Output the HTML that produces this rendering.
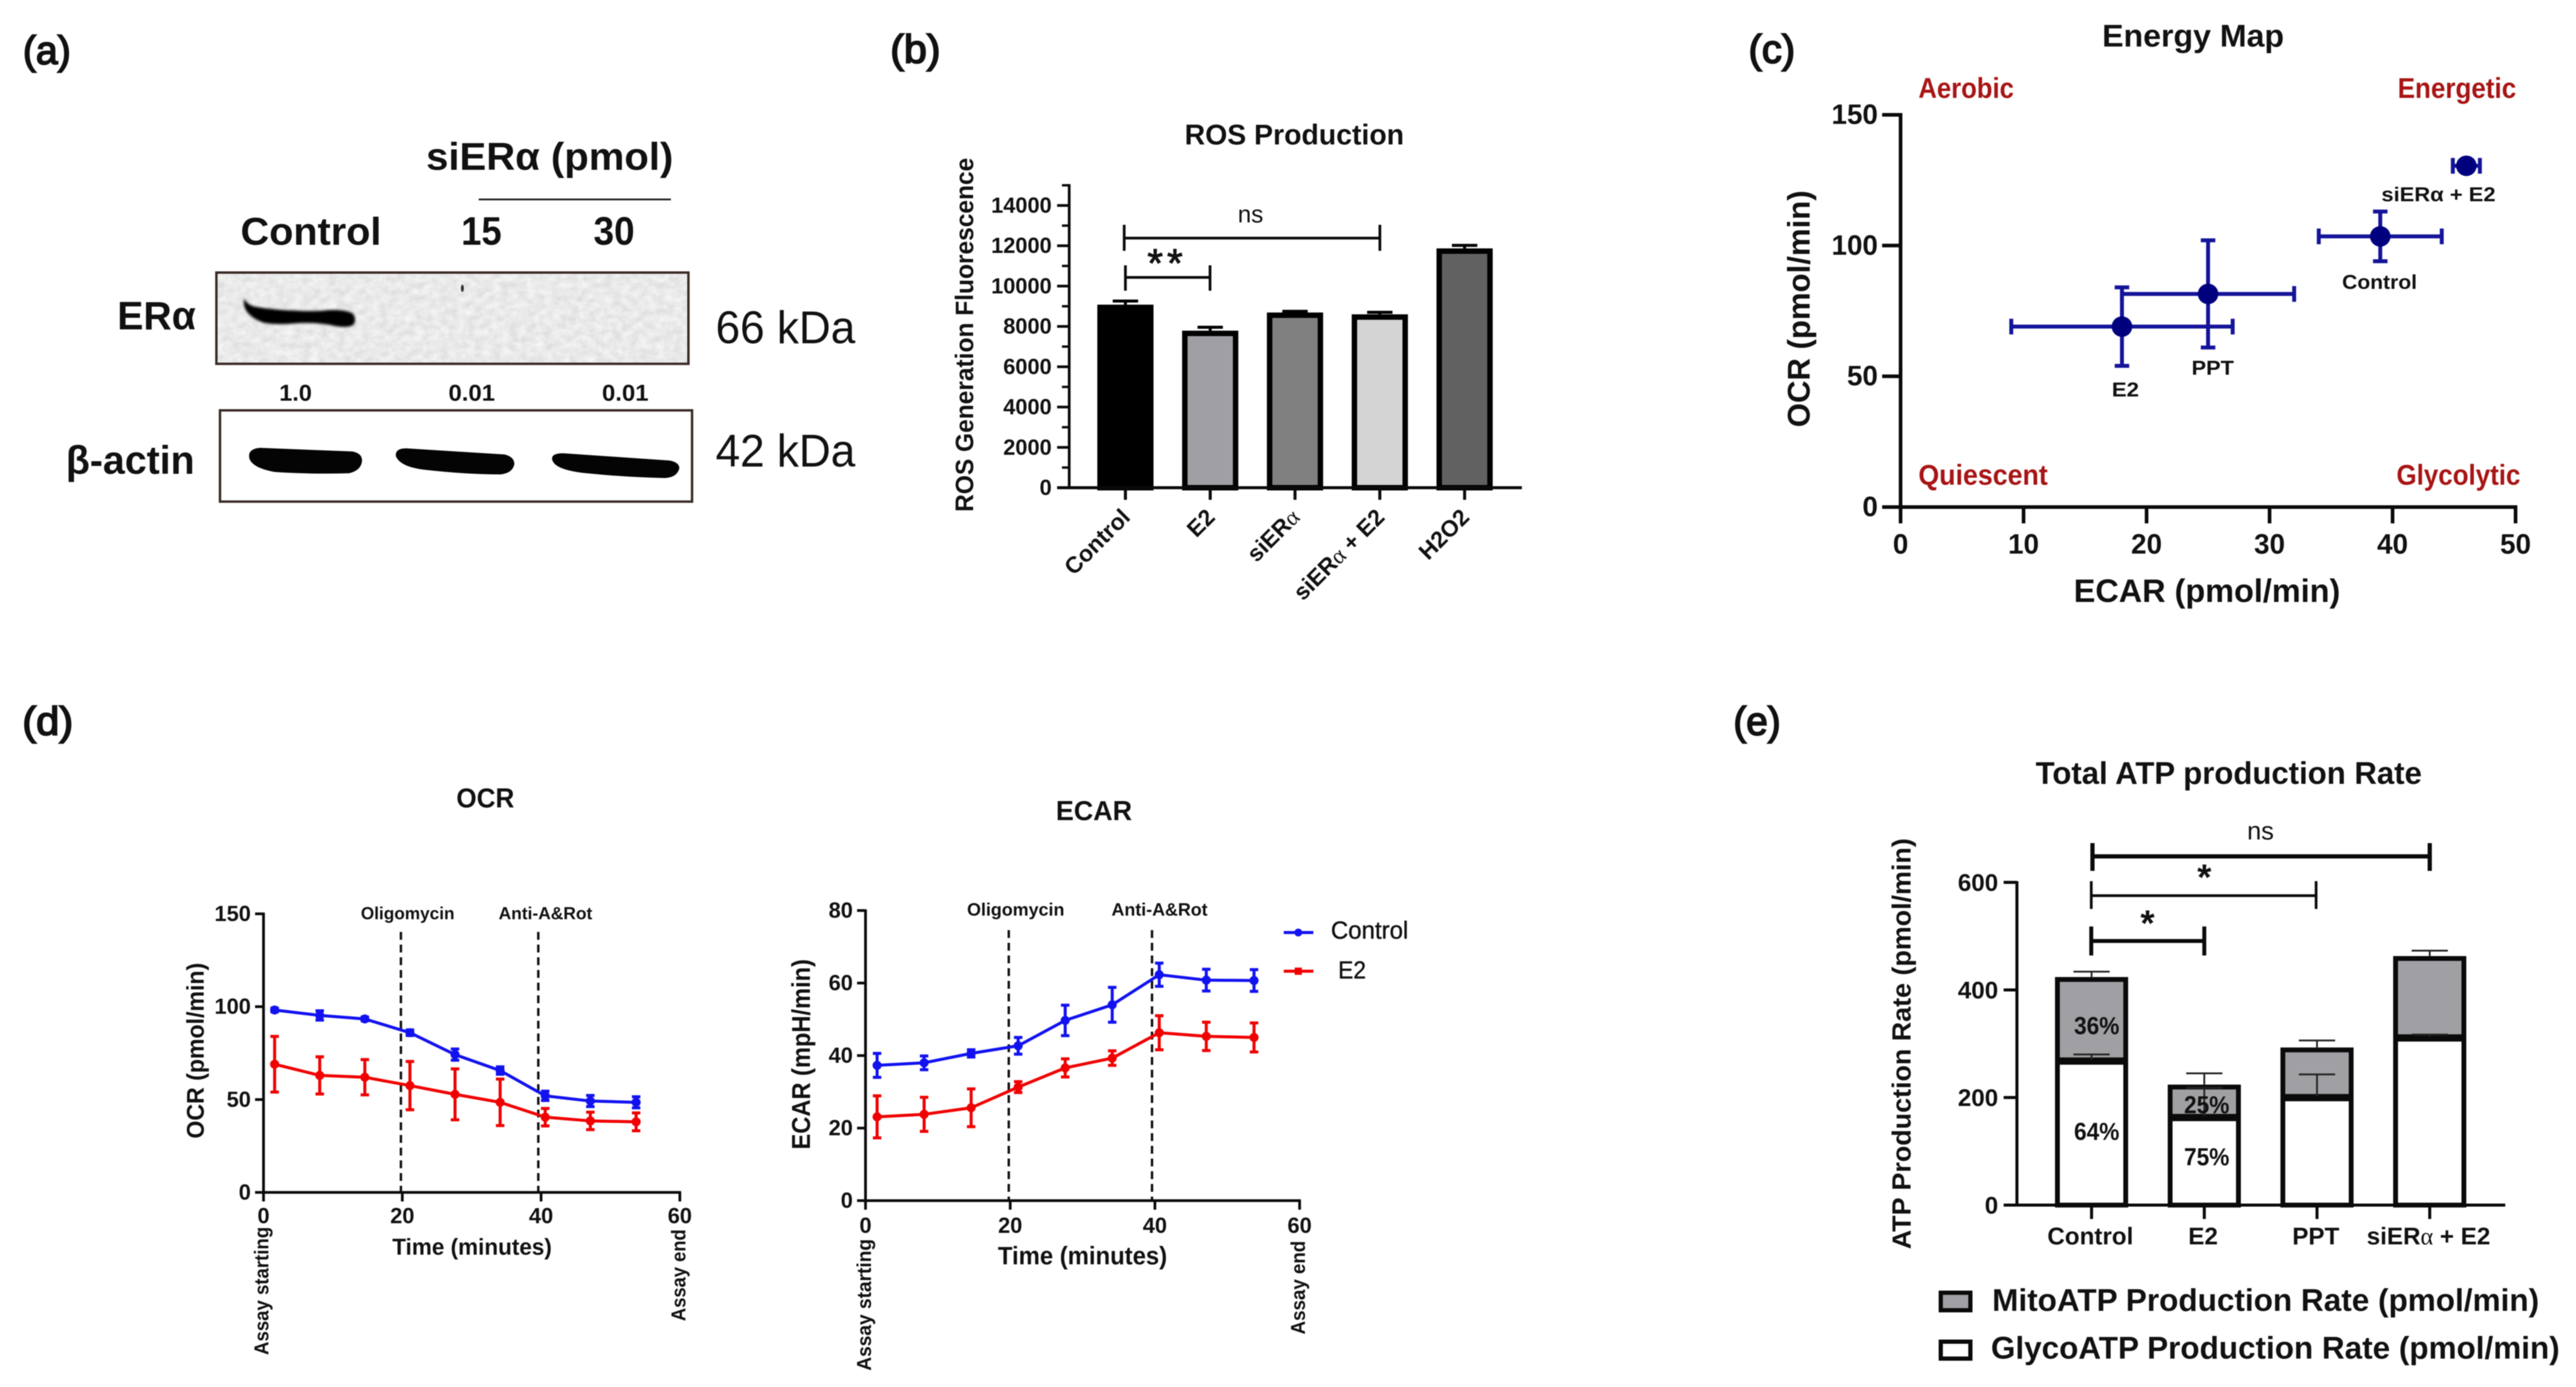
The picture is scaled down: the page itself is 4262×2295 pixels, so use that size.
<!DOCTYPE html>
<html lang="en">
<head>
<meta charset="utf-8">
<title>ERα knockdown: ROS, energy map, OCR, ECAR and ATP production</title>
<style>
html,body{margin:0;padding:0;background:#fff;width:4262px;height:2295px;overflow:hidden}
svg{display:block;filter:blur(0.9px)}
text{font-family:"Liberation Sans","DejaVu Sans",sans-serif;fill:#111}
.b{font-weight:700}
.panel{font-size:66px;font-weight:400;stroke:#111;stroke-width:2.6px}
.red{fill:#a81414;font-weight:700;font-size:47px}
.ax{stroke:#0a0a0a;fill:none;stroke-linecap:butt}
</style>
</head>
<body>
<svg xmlns="http://www.w3.org/2000/svg" width="4262" height="2295" viewBox="0 0 4262 2295">
<defs>
<filter id="blotNoise" x="0" y="0" width="100%" height="100%">
<feTurbulence type="fractalNoise" baseFrequency="0.07 0.09" numOctaves="3" seed="4"/>
<feColorMatrix type="matrix" values="0.28 0 0 0 0.68  0.28 0 0 0 0.68  0.28 0 0 0 0.68  0 0 0 0 1"/>
</filter>
<filter id="soft" x="-10%" y="-20%" width="120%" height="140%"><feGaussianBlur stdDeviation="2.2"/></filter>
</defs>
<rect width="4262" height="2295" fill="#fff"/>

<!-- Panel a -->
<g>
<text class="panel" x="38" y="106" textLength="79" lengthAdjust="spacingAndGlyphs">(a)</text>
<text class="b" x="705" y="281" font-size="64" textLength="409" lengthAdjust="spacingAndGlyphs">siERα (pmol)</text>
<line x1="792" y1="330" x2="1110" y2="330" stroke="#222" stroke-width="3"/>
<text class="b" x="398" y="405" font-size="64" textLength="233" lengthAdjust="spacingAndGlyphs">Control</text>
<text class="b" x="763" y="405" font-size="66" textLength="67" lengthAdjust="spacingAndGlyphs">15</text>
<text class="b" x="982" y="405" font-size="66" textLength="68" lengthAdjust="spacingAndGlyphs">30</text>
<rect x="358" y="451" width="781" height="151" fill="#d6d6d6" filter="url(#blotNoise)"/>
<rect x="358" y="451" width="781" height="151" fill="none" stroke="#3a2a26" stroke-width="4"/>
<path d="M404 494 Q410 506 425 508 Q455 513 490 514 Q520 516 546 513 Q572 512 584 519 Q591 530 584 538 Q572 544 548 538 Q520 533 490 535 Q458 538 436 534 Q414 526 406 512 Q402 502 404 494Z" fill="#060606" filter="url(#soft)"/>
<ellipse cx="765" cy="477" rx="2.5" ry="6" fill="#333"/>
<text class="b" x="194" y="545" font-size="66" textLength="130" lengthAdjust="spacingAndGlyphs">ERα</text>
<text x="1184" y="568" font-size="76" textLength="231" lengthAdjust="spacingAndGlyphs">66 kDa</text>
<text class="b" x="462" y="663" font-size="38" textLength="54" lengthAdjust="spacingAndGlyphs">1.0</text>
<text class="b" x="742" y="663" font-size="38" textLength="77" lengthAdjust="spacingAndGlyphs">0.01</text>
<text class="b" x="996" y="663" font-size="38" textLength="77" lengthAdjust="spacingAndGlyphs">0.01</text>
<rect x="364" y="679" width="781" height="151" fill="#fff" stroke="#3a2a26" stroke-width="4"/>
<path d="M430 741 L583 747 Q599 750 599 762 Q598 778 578 783 Q520 785 455 781 Q420 775 413 760 Q408 743 430 741Z" fill="#040404"/>
<path d="M675 742 L835 752 Q851 756 851 768 Q848 783 828 785 Q770 785 700 777 Q662 772 655 755 Q653 741 675 742Z" fill="#040404"/>
<path d="M932 750 L1108 762 Q1124 765 1124 775 Q1120 790 1100 791 Q1040 790 970 783 Q920 778 914 762 Q910 750 932 750Z" fill="#040404"/>
<text class="b" x="109" y="784" font-size="66" textLength="213" lengthAdjust="spacingAndGlyphs">β-actin</text>
<text x="1184" y="772" font-size="76" textLength="231" lengthAdjust="spacingAndGlyphs">42 kDa</text>
</g>

<!-- Panel b -->
<g id="rosChart">
<text class="panel" x="1473" y="104" textLength="83" lengthAdjust="spacingAndGlyphs">(b)</text>
<text class="b" x="1960" y="239" font-size="47" textLength="363" lengthAdjust="spacingAndGlyphs">ROS Production</text>
<text class="b" transform="translate(1610,847) rotate(-90)" font-size="42" textLength="586" lengthAdjust="spacingAndGlyphs">ROS Generation Fluorescence</text>
</g>
<g>
<path class="ax" stroke-width="4.5" d="M1860 372V415M1860 394H2283M2283 372V415"/>
<text x="2069" y="368" font-size="40" text-anchor="middle">ns</text>
<path class="ax" stroke-width="4.5" d="M1862 439V481M1862 459H2002M2002 439V481"/>
<text x="1931" y="458" font-size="66" letter-spacing="7" text-anchor="middle" stroke="#111" stroke-width="1.5">**</text>
</g>

<!-- Panel c -->
<g id="energyChart">
<text class="panel" x="2893" y="104" textLength="77" lengthAdjust="spacingAndGlyphs">(c)</text>
<text class="b" x="3478" y="77" font-size="52" textLength="301" lengthAdjust="spacingAndGlyphs">Energy Map</text>
<text class="red" x="3174" y="162" textLength="158" lengthAdjust="spacingAndGlyphs">Aerobic</text>
<text class="red" x="3967" y="162" textLength="196" lengthAdjust="spacingAndGlyphs">Energetic</text>
<text class="red" x="3174" y="802" textLength="214" lengthAdjust="spacingAndGlyphs">Quiescent</text>
<text class="red" x="3965" y="802" textLength="205" lengthAdjust="spacingAndGlyphs">Glycolytic</text>
<text class="b" x="3431" y="996" font-size="54" textLength="441" lengthAdjust="spacingAndGlyphs">ECAR (pmol/min)</text>
<text class="b" transform="translate(2994,707) rotate(-90)" font-size="52" textLength="392" lengthAdjust="spacingAndGlyphs">OCR (pmol/min)</text>
<text class="b" x="3940" y="333" font-size="33" textLength="189" lengthAdjust="spacingAndGlyphs">siERα + E2</text>
<text class="b" x="3875" y="478" font-size="33" textLength="124" lengthAdjust="spacingAndGlyphs">Control</text>
<text class="b" x="3626" y="620" font-size="33" textLength="70" lengthAdjust="spacingAndGlyphs">PPT</text>
<text class="b" x="3494" y="656" font-size="33" textLength="45" lengthAdjust="spacingAndGlyphs">E2</text>
</g>

<!-- Panel d -->
<text class="panel" x="37" y="1216" textLength="84" lengthAdjust="spacingAndGlyphs">(d)</text>
<g id="ocrChart">
<text class="b" x="755" y="1336" font-size="45" textLength="96" lengthAdjust="spacingAndGlyphs">OCR</text>
<text class="b" x="649" y="2076" font-size="38" textLength="264" lengthAdjust="spacingAndGlyphs">Time (minutes)</text>
<text class="b" transform="translate(337,1884) rotate(-90)" font-size="40" textLength="291" lengthAdjust="spacingAndGlyphs">OCR (pmol/min)</text>
<text class="b" transform="translate(444,2242) rotate(-90)" font-size="33" textLength="212" lengthAdjust="spacingAndGlyphs">Assay starting</text>
<text class="b" transform="translate(1134,2186) rotate(-90)" font-size="33" textLength="152" lengthAdjust="spacingAndGlyphs">Assay end</text>
<text class="b" x="597" y="1521" font-size="29" textLength="155" lengthAdjust="spacingAndGlyphs">Oligomycin</text>
<text class="b" x="825" y="1521" font-size="29" textLength="155" lengthAdjust="spacingAndGlyphs">Anti-A&amp;Rot</text>
</g>
<g id="ecarChart">
<text class="b" x="1747" y="1357" font-size="45" textLength="126" lengthAdjust="spacingAndGlyphs">ECAR</text>
<text class="b" x="1651" y="2092" font-size="42" textLength="280" lengthAdjust="spacingAndGlyphs">Time (minutes)</text>
<text class="b" transform="translate(1340,1902) rotate(-90)" font-size="43" textLength="315" lengthAdjust="spacingAndGlyphs">ECAR (mpH/min)</text>
<text class="b" transform="translate(1441,2268) rotate(-90)" font-size="33" textLength="218" lengthAdjust="spacingAndGlyphs">Assay starting</text>
<text class="b" transform="translate(2159,2208) rotate(-90)" font-size="33" textLength="155" lengthAdjust="spacingAndGlyphs">Assay end</text>
<text class="b" x="1600" y="1515" font-size="30" textLength="161" lengthAdjust="spacingAndGlyphs">Oligomycin</text>
<text class="b" x="1839" y="1515" font-size="30" textLength="159" lengthAdjust="spacingAndGlyphs">Anti-A&amp;Rot</text>
</g>
<g>
<g>
<line x1="2124" y1="1543" x2="2173" y2="1543" stroke="#1212f0" stroke-width="5"/>
<circle cx="2148" cy="1543" r="6.5" fill="#1212f0"/>
<text x="2202" y="1553" font-size="41" stroke="#111" stroke-width="0.6" textLength="128" lengthAdjust="spacingAndGlyphs">Control</text>
</g>
<g>
<line x1="2124" y1="1607" x2="2173" y2="1607" stroke="#f00000" stroke-width="5"/>
<rect x="2142" y="1601" width="12" height="12" fill="#f00000"/>
<text x="2214" y="1619" font-size="41" stroke="#111" stroke-width="0.6" textLength="46" lengthAdjust="spacingAndGlyphs">E2</text>
</g>
</g>

<!-- Panel e -->
<g id="atpChart">
<text class="panel" x="2868" y="1216" textLength="78" lengthAdjust="spacingAndGlyphs">(e)</text>
<text class="b" x="3368" y="1297" font-size="52" textLength="639" lengthAdjust="spacingAndGlyphs">Total ATP production Rate</text>
<text class="b" transform="translate(3161,2067) rotate(-90)" font-size="44" textLength="680" lengthAdjust="spacingAndGlyphs">ATP Production Rate (pmol/min)</text>
</g>
<g>
<text class="b" x="3469" y="1711" font-size="41" text-anchor="middle" textLength="75" lengthAdjust="spacingAndGlyphs">36%</text>
<text class="b" x="3469" y="1886" font-size="41" text-anchor="middle" textLength="75" lengthAdjust="spacingAndGlyphs">64%</text>
<text class="b" x="3651" y="1842" font-size="41" text-anchor="middle" textLength="75" lengthAdjust="spacingAndGlyphs">25%</text>
<text class="b" x="3651" y="1928" font-size="41" text-anchor="middle" textLength="75" lengthAdjust="spacingAndGlyphs">75%</text>
<path class="ax" stroke-width="7" d="M3462 1395V1441M3462 1417H4020M4020 1395V1441"/>
<text x="3740" y="1389" font-size="42" text-anchor="middle">ns</text>
<path class="ax" stroke-width="4.5" d="M3460 1458V1504M3460 1482H3832M3832 1458V1504"/>
<text class="b" x="3647" y="1472" font-size="60" text-anchor="middle">*</text>
<path class="ax" stroke-width="6.5" d="M3460 1533V1581M3460 1557H3647M3647 1533V1581"/>
<text class="b" x="3553" y="1548" font-size="60" text-anchor="middle">*</text>
</g>
<g>
<rect x="3211" y="2139" width="49" height="29" fill="#a0a0a4" stroke="#0a0a0a" stroke-width="7"/>
<text class="b" x="3296" y="2169" font-size="52" textLength="905" lengthAdjust="spacingAndGlyphs">MitoATP Production Rate (pmol/min)</text>
<rect x="3211" y="2220" width="49" height="28" fill="#fff" stroke="#0a0a0a" stroke-width="7"/>
<text class="b" x="3294" y="2248" font-size="52" textLength="941" lengthAdjust="spacingAndGlyphs">GlycoATP Production Rate (pmol/min)</text>
</g>

<script>
// ---- Panel b data ----
const rosCategories = ['Control', 'E2', 'siERα', 'siERα + E2', 'H2O2'];
const rosValues = [9080, 7790, 8690, 8600, 11870];
const rosErrors = [180, 170, 60, 100, 150];
const rosFills = ['#000000', '#a0a0a4', '#808080', '#d4d4d4', '#616161'];
const rosMajorTicks = [0, 2000, 4000, 6000, 8000, 10000, 12000, 14000];
const rosMinorTicks = [1000, 3000, 5000, 7000, 9000, 11000, 13000, 15000];

// ---- Panel c data ----
const energyGroups = ['E2', 'PPT', 'Control', 'siERα + E2'];
const energyEcar = [18, 25, 39, 46];
const energyOcr = [69, 81.5, 103.5, 130.5];
const energyEcarErr = [9, 7, 5, 1.1];
const energyOcrErr = [15, 20.5, 9.5, 1];
const energyXTicks = [0, 10, 20, 30, 40, 50];
const energyYTicks = [0, 50, 100, 150];

// ---- Panel d data ----
const timePoints = [1.6, 8.1, 14.6, 21.1, 27.6, 34.1, 40.6, 47.1, 53.7];
const ocrControl = [98.2, 95.3, 93.4, 86, 74.2, 65.6, 52, 49.2, 48.5];
const ocrControlErr = [1, 2.5, 1, 1.5, 3, 2, 2.5, 3, 3];
const ocrE2 = [69, 63, 62, 57.5, 52.8, 48.5, 40.5, 38.5, 38];
const ocrE2Err = [15, 10, 9.5, 13, 13.7, 12.5, 4.7, 4.7, 4.8];
const ocrYTicks = [0, 50, 100, 150];
const ecarControl = [37.3, 38, 40.6, 42.7, 49.7, 54, 62.3, 60.8, 60.7];
const ecarControlErr = [3.3, 1.9, 1, 2.3, 4.2, 4.8, 3.2, 3, 3];
const ecarE2 = [23.1, 23.8, 25.6, 31.3, 36.6, 39.3, 46.3, 45.3, 45];
const ecarE2Err = [5.8, 4.7, 5.2, 1.5, 2.5, 2, 4.7, 3.9, 4];
const ecarYTicks = [0, 20, 40, 60, 80];
const timeTicks = [0, 20, 40, 60];
const injectionTimes = [19.8, 39.6];

// ---- Panel e data ----
const atpCategories = ['Control', 'E2', 'PPT', 'siERα + E2'];
const atpGlyco = [270, 165, 202, 313];
const atpMito = [154, 59, 91, 150];
const atpGlycoErr = [10, 53, 41, 4];
const atpTotalErr = [10, 21, 13, 10];
const atpYTicks = [0, 200, 400, 600];

const NS = 'http://www.w3.org/2000/svg';
function mk(tag, parent, props) {
  const el = document.createElementNS(NS, tag);
  for (const k in props) el.setAttribute(k, props[k]);
  parent.appendChild(el);
  return el;
}
function slug(s) {
  return String(s).toLowerCase().replace(/[^a-z0-9]+/g, '-');
}
function setLabel(el, str, symbolAlpha) {
  if (!symbolAlpha || str.indexOf('α') < 0) { el.textContent = str; return; }
  const parts = str.split('α');
  el.appendChild(document.createTextNode(parts[0]));
  const a = document.createElementNS(NS, 'tspan');
  a.setAttribute('font-family', '"Liberation Serif", serif');
  a.setAttribute('font-weight', '400');
  a.textContent = 'α';
  el.appendChild(a);
  el.appendChild(document.createTextNode(parts[1]));
}

// ---- ROS bar chart ----
(function () {
  const root = document.getElementById('rosChart');
  const y = v => 807 - v * 0.03336;
  const x = i => 1862 + i * 140.3;
  rosCategories.forEach((c, i) => {
    const h = mk('line', root, {x1: x(i), x2: x(i), y1: y(rosValues[i]), y2: y(rosValues[i] + rosErrors[i]), stroke: '#000', 'stroke-width': 5});
    
    
    const cap = mk('line', root, {x1: x(i) - 21, x2: x(i) + 21, y1: y(rosValues[i] + rosErrors[i]), y2: y(rosValues[i] + rosErrors[i]), stroke: '#000', 'stroke-width': 5});
    
    
    const r = mk('rect', root, {x: x(i) - 42, width: 84, y: y(rosValues[i]) + 4.5, height: 807 - y(rosValues[i]) - 4.5, fill: rosFills[i], stroke: '#000', 'stroke-width': 9});
    
    
    const t = mk('line', root, {x1: x(i), x2: x(i), y1: 807, y2: 827, stroke: '#0a0a0a', 'stroke-width': 5});
    
    
    const lab = mk('text', root, {'font-size': 38, 'font-weight': 700, 'text-anchor': 'end', transform: 'translate(' + (x(i) + 10) + ',858) rotate(-45)'});
    setLabel(lab, c, true);
    
    
  });
  const yAxis = mk('line', root, {x1: 1769, x2: 1769, y1: y(15000) - 2, y2: 809, stroke: '#0a0a0a', 'stroke-width': 4.5});
  
  
  const xAxis = mk('line', root, {x1: 1749, x2: 2518, y1: 807, y2: 807, stroke: '#0a0a0a', 'stroke-width': 5});
  
  
  rosMajorTicks.forEach(v => {
    const t = mk('line', root, {x1: 1749, x2: 1769, y1: y(v), y2: y(v), stroke: '#0a0a0a', 'stroke-width': 4.5});
    
    
    const l = mk('text', root, {x: 1740, y: y(v) + 12, 'text-anchor': 'end', 'font-size': 36, 'font-weight': 700});
    l.textContent = v;
    
    
  });
  rosMinorTicks.forEach(v => {
    const t = mk('line', root, {x1: 1757, x2: 1769, y1: y(v), y2: y(v), stroke: '#0a0a0a', 'stroke-width': 4});
    
    
  });
})();

// ---- Energy map ----
(function () {
  const root = document.getElementById('energyChart');
  const x = v => 3144.5 + v * 20.35;
  const y = v => 839 - v * 4.327;
  const yAxis = mk('line', root, {x1: x(0), x2: x(0), y1: y(150) - 3, y2: 842, stroke: '#0a0a0a', 'stroke-width': 6});
  
  
  const xAxis = mk('line', root, {x1: x(0), x2: x(50) + 3, y1: y(0), y2: y(0), stroke: '#0a0a0a', 'stroke-width': 6});
  
  
  energyXTicks.forEach(v => {
    const t = mk('line', root, {x1: x(v), x2: x(v), y1: y(0), y2: 866, stroke: '#0a0a0a', 'stroke-width': 6});
    
    
    const l = mk('text', root, {x: x(v), y: 916, 'text-anchor': 'middle', 'font-size': 46, 'font-weight': 700});
    l.textContent = v;
    
    
  });
  energyYTicks.forEach(v => {
    const t = mk('line', root, {x1: 3114, x2: x(0), y1: y(v), y2: y(v), stroke: '#0a0a0a', 'stroke-width': 6});
    
    
    const l = mk('text', root, {x: 3107, y: y(v) + 15, 'text-anchor': 'end', 'font-size': 46, 'font-weight': 700});
    l.textContent = v;
    
    
  });
  energyGroups.forEach((g, i) => {
    const cx = x(energyEcar[i]), cy = y(energyOcr[i]);
    const xl = x(energyEcar[i] - energyEcarErr[i]), xr = x(energyEcar[i] + energyEcarErr[i]);
    const yt = y(energyOcr[i] + energyOcrErr[i]), yb = y(energyOcr[i] - energyOcrErr[i]);
    const d = 'M' + xl + ' ' + cy + 'H' + xr + 'M' + xl + ' ' + (cy - 13) + 'V' + (cy + 13) + 'M' + xr + ' ' + (cy - 13) + 'V' + (cy + 13) +
      'M' + cx + ' ' + yt + 'V' + yb + 'M' + (cx - 12) + ' ' + yt + 'H' + (cx + 12) + 'M' + (cx - 12) + ' ' + yb + 'H' + (cx + 12);
    const e = mk('path', root, {d: d, fill: 'none', stroke: '#14149a', 'stroke-width': 6.5});
    
    
    const m = mk('circle', root, {cx: cx, cy: cy, r: 17, fill: '#00007f'});
    
    
  });
})();

// ---- Seahorse time-course line charts ----
function drawCourse(rootId, prefix, frame, yTicks, ctrl, ctrlErr, e2, e2Err) {
  const root = document.getElementById(rootId);
  const x = t => frame.x0 + t * frame.xPerMin;
  const y = v => frame.y0 - v * frame.yPerUnit;
  injectionTimes.forEach(t => {
    const d = mk('line', root, {x1: x(t), x2: x(t), y1: frame.dashTop, y2: frame.y0, stroke: '#111', 'stroke-width': 4, 'stroke-dasharray': '13 8'});
    
    
  });
  const yAxis = mk('line', root, {x1: frame.x0, x2: frame.x0, y1: y(yTicks[yTicks.length - 1]) - 2, y2: frame.y0 + 2, stroke: '#0a0a0a', 'stroke-width': 4.5});
  
  
  const xAxis = mk('line', root, {x1: frame.x0, x2: x(60) + 2, y1: frame.y0, y2: frame.y0, stroke: '#0a0a0a', 'stroke-width': 4.5});
  
  
  timeTicks.forEach(v => {
    const t = mk('line', root, {x1: x(v), x2: x(v), y1: frame.y0, y2: frame.y0 + 15, stroke: '#0a0a0a', 'stroke-width': 4.5});
    
    
    const l = mk('text', root, {x: x(v), y: frame.xLabelY, 'text-anchor': 'middle', 'font-size': 36, 'font-weight': 700});
    l.textContent = v;
    
    
  });
  yTicks.forEach(v => {
    const t = mk('line', root, {x1: frame.x0 - 14, x2: frame.x0, y1: y(v), y2: y(v), stroke: '#0a0a0a', 'stroke-width': 4.5});
    
    
    const l = mk('text', root, {x: frame.x0 - 21, y: y(v) + 12, 'text-anchor': 'end', 'font-size': 36, 'font-weight': 700});
    l.textContent = v;
    
    
  });
  [['control', ctrl, ctrlErr, '#1212f0'], ['e2', e2, e2Err, '#f00000']].forEach(s => {
    const pts = timePoints.map((t, i) => x(t) + ',' + y(s[1][i])).join(' ');
    const line = mk('polyline', root, {points: pts, fill: 'none', stroke: s[3], 'stroke-width': 5, 'stroke-linejoin': 'round'});
    
    
    timePoints.forEach((t, i) => {
      const cx = x(t), yt = y(s[1][i] + s[2][i]), yb = y(s[1][i] - s[2][i]);
      const e = mk('path', root, {d: 'M' + cx + ' ' + yt + 'V' + yb + 'M' + (cx - 7) + ' ' + yt + 'H' + (cx + 7) + 'M' + (cx - 7) + ' ' + yb + 'H' + (cx + 7), fill: 'none', stroke: s[3], 'stroke-width': 5});
      
      
      const m = mk('circle', root, {cx: cx, cy: y(s[1][i]), r: 7.5, fill: s[3]});
      
      
    });
  });
}
drawCourse('ocrChart', 'ocr', {x0: 436, xPerMin: 11.48, y0: 1973, yPerUnit: 3.073, dashTop: 1542, xLabelY: 2024}, ocrYTicks, ocrControl, ocrControlErr, ocrE2, ocrE2Err);
drawCourse('ecarChart', 'ecar', {x0: 1432, xPerMin: 11.97, y0: 1986.6, yPerUnit: 6.0, dashTop: 1539, xLabelY: 2040}, ecarYTicks, ecarControl, ecarControlErr, ecarE2, ecarE2Err);

// ---- ATP stacked bars ----
(function () {
  const root = document.getElementById('atpChart');
  const y = v => 1994 - v * 0.89;
  const x = i => 3460.5 + i * 186.5;
  atpCategories.forEach((c, i) => {
    const total = atpGlyco[i] + atpMito[i];
    const mito = mk('rect', root, {x: x(i) - 56.5, width: 113, y: y(total) + 4, height: y(atpGlyco[i]) - y(total) - 4, fill: '#a0a0a4', stroke: '#0a0a0a', 'stroke-width': 8});
    
    
    const gly = mk('rect', root, {x: x(i) - 56.5, width: 113, y: y(atpGlyco[i]) + 4, height: 1994 - y(atpGlyco[i]) - 4, fill: '#fff', stroke: '#0a0a0a', 'stroke-width': 8});
    
    
    const e1 = mk('path', root, {d: 'M' + x(i) + ' ' + y(atpGlyco[i]) + 'V' + y(atpGlyco[i] + atpGlycoErr[i]) + 'M' + (x(i) - 30) + ' ' + y(atpGlyco[i] + atpGlycoErr[i]) + 'H' + (x(i) + 30), fill: 'none', stroke: '#222', 'stroke-width': 3});
    
    
    const e2 = mk('path', root, {d: 'M' + x(i) + ' ' + y(total) + 'V' + y(total + atpTotalErr[i]) + 'M' + (x(i) - 30) + ' ' + y(total + atpTotalErr[i]) + 'H' + (x(i) + 30), fill: 'none', stroke: '#222', 'stroke-width': 3});
    
    
    const t = mk('line', root, {x1: x(i), x2: x(i), y1: 1994, y2: 2017, stroke: '#0a0a0a', 'stroke-width': 5});
    
    
    const l = mk('text', root, {x: x(i) - 2, y: 2059, 'text-anchor': 'middle', 'font-size': 40, 'font-weight': 700});
    setLabel(l, c, true);
    
    
  });
  const yAxis = mk('line', root, {x1: 3337, x2: 3337, y1: y(600) - 2, y2: 1996, stroke: '#0a0a0a', 'stroke-width': 5});
  
  
  const xAxis = mk('line', root, {x1: 3337, x2: 4145, y1: 1994, y2: 1994, stroke: '#0a0a0a', 'stroke-width': 5});
  
  
  atpYTicks.forEach(v => {
    const t = mk('line', root, {x1: 3315, x2: 3337, y1: y(v), y2: y(v), stroke: '#0a0a0a', 'stroke-width': 5});
    
    
    const l = mk('text', root, {x: 3306, y: y(v) + 14, 'text-anchor': 'end', 'font-size': 40, 'font-weight': 700});
    l.textContent = v;
    
    
  });
})();
</script>
</svg>
</body>
</html>
